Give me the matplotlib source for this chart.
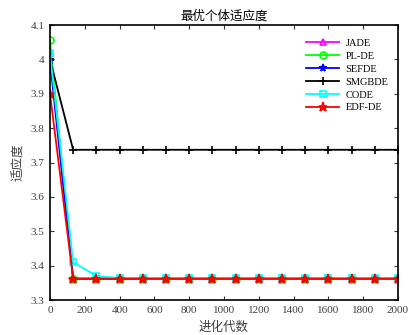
import matplotlib
matplotlib.use("Agg")
import matplotlib.pyplot as plt
import numpy as np

plt.rcParams['font.family'] = ['Liberation Serif', 'Noto Sans CJK SC']
plt.rcParams['mathtext.fontset'] = 'stix'

gens = [0, 133, 267, 400, 533, 667, 800, 933, 1067, 1200, 1333, 1467, 1600, 1733, 1867, 2000]
jade = [4.02, 3.362, 3.362, 3.362, 3.362, 3.362, 3.362, 3.362, 3.362, 3.362, 3.362, 3.362, 3.362, 3.362, 3.362, 3.362]
plde = [4.055, 3.362, 3.362, 3.362, 3.362, 3.362, 3.362, 3.362, 3.362, 3.362, 3.362, 3.362, 3.362, 3.362, 3.362, 3.362]
sefde = [3.996, 3.362, 3.362, 3.362, 3.362, 3.362, 3.362, 3.362, 3.362, 3.362, 3.362, 3.362, 3.362, 3.362, 3.362, 3.362]
smgbde = [4.0, 3.737, 3.737, 3.737, 3.737, 3.737, 3.737, 3.737, 3.737, 3.737, 3.737, 3.737, 3.737, 3.737, 3.737, 3.737]
code = [4.018, 3.41, 3.37, 3.364, 3.363, 3.363, 3.363, 3.363, 3.363, 3.363, 3.363, 3.363, 3.363, 3.363, 3.363, 3.363]
edfde = [3.90, 3.362, 3.362, 3.362, 3.362, 3.362, 3.362, 3.362, 3.362, 3.362, 3.362, 3.362, 3.362, 3.362, 3.362, 3.362]

names = ['JADE', 'PL-DE', 'SEFDE', 'SMGBDE', 'CODE', 'EDF-DE']
series = [jade, plde, sefde, smgbde, code, edfde]
colors = ['#ff00ff', '#00ff00', '#0000ff', '#000000', '#00ffff', '#ff0000']
markers = ['^', 'o', '*', '+', 's', '*']
msizes = [5, 5, 5.5, 6, 4.5, 6.5]

xticks = [0, 200, 400, 600, 800, 1000, 1200, 1400, 1600, 1800, 2000]
yticks = [3.3, 3.4, 3.5, 3.6, 3.7, 3.8, 3.9, 4.0, 4.1]
ytick_labels = ['3.3', '3.4', '3.5', '3.6', '3.7', '3.8', '3.9', '4', '4.1']

fig = plt.figure(figsize=(4.13, 3.35), dpi=100)
ax = fig.add_axes([50/413, 35/335, 348/413, 275/335])

for name, ys, c, m, ms in zip(names, series, colors, markers, msizes):
    ax.plot(gens, ys, color=c, marker=m, markersize=ms, markerfacecolor='none' if m in ('^', 'o', 's') else c,
            markeredgecolor=c, markeredgewidth=1.2, linewidth=1.3, label=name)

ax.set_xlim(0, 2000)
ax.set_ylim(3.3, 4.1)
ax.set_xticks(xticks)
ax.set_yticks(yticks)
ax.set_yticklabels(ytick_labels)
ax.tick_params(direction='in', labelsize=8, colors='#333333', length=3, top=True, right=True, pad=4)
ax.tick_params(axis='both', labelcolor='#404040')
for s in ax.spines.values():
    s.set_linewidth(1.2)

ax.set_title('最优个体适应度', fontsize=9, pad=4)
ax.set_xlabel('进化代数', fontsize=9, labelpad=5, color='#404040')
ax.set_ylabel('适应度', fontsize=9, labelpad=4, color='#404040')

leg = ax.legend(loc='upper right', bbox_to_anchor=(1.0, 0.985), frameon=False, fontsize=7.5,
                handlelength=3.2, labelspacing=0.35, handletextpad=0.6)

fig.savefig('out.png', dpi=100)
